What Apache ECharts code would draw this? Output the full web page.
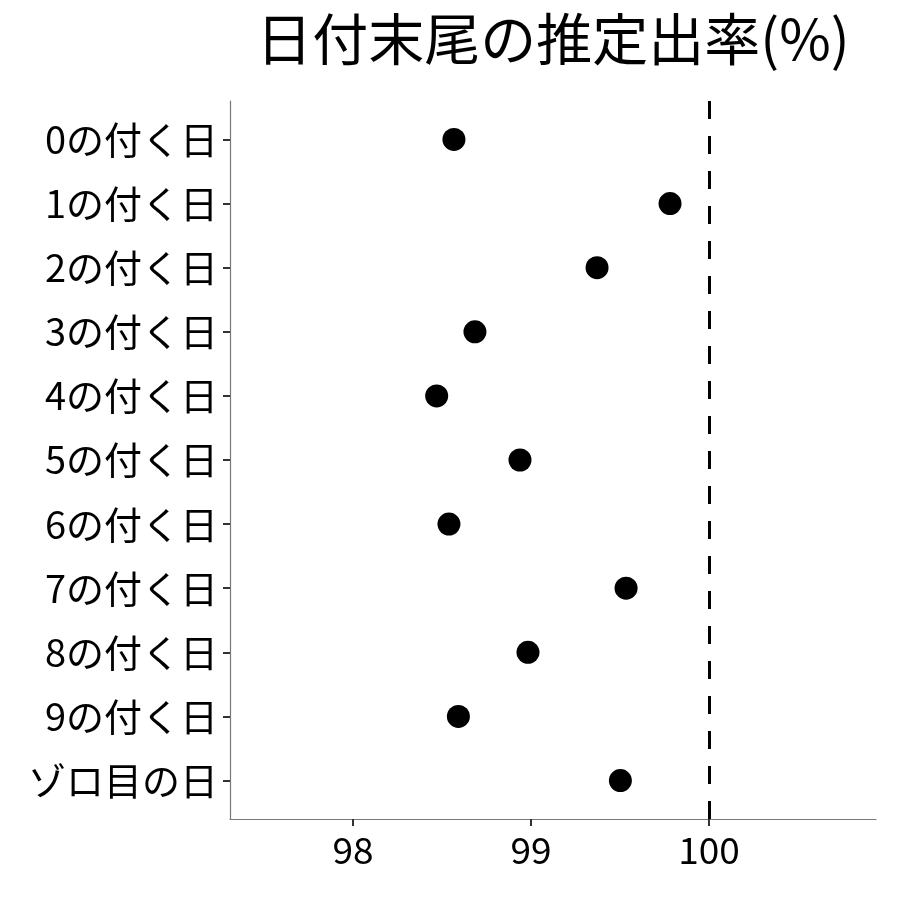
<!DOCTYPE html>
<html>
<head>
<meta charset="utf-8">
<script src="https://cdn.jsdelivr.net/npm/echarts@6/dist/echarts.min.js"></script>
<style>
  html, body { margin: 0; padding: 0; background: #fff; }
  #main { width: 900px; height: 900px; }
</style>
</head>
<body>
<div id="main"></div>
<script>
// 日付末尾ごとの推定出率
var categories = ["0の付く日", "1の付く日", "2の付く日", "3の付く日", "4の付く日",
                  "5の付く日", "6の付く日", "7の付く日", "8の付く日", "9の付く日", "ゾロ目の日"];
var rates = [98.567, 99.781, 99.371, 98.685, 98.470, 98.938, 98.539, 99.534, 98.983, 98.592, 99.502];
var xTicks = [98, 99, 100];
var refLine = 100;

var font = '"Noto Sans CJK JP", "Noto Sans", sans-serif';
var yIdx = categories.map(function (c, i) { return i; });

var dom = document.getElementById("main");
var myChart = echarts.init(dom);
var option = {
    backgroundColor: "#fff",
    animation: false,
    title: {
        text: "日付末尾の推定出率(%)",
        left: 548, top: 6, textAlign: "center",
        textStyle: { fontFamily: font, fontSize: 56, fontWeight: "normal", color: "#000" }
    },
    grid: { left: 230, right: 24, top: 101, bottom: 81 },
    xAxis: {
        type: "value",
        min: 97.309, max: 100.938,
        splitLine: { show: false },
        axisLine: { show: true, onZero: false, lineStyle: { color: "#777", width: 1.2 } },
        axisTick: { show: true, customValues: xTicks, length: 7, lineStyle: { color: "#333", width: 2 } },
        axisLabel: { customValues: xTicks, margin: 12, fontFamily: font, fontSize: 37, color: "#000" }
    },
    yAxis: {
        type: "value",
        inverse: true,
        min: -0.6, max: 10.6,
        splitLine: { show: false },
        axisLine: { show: true, onZero: false, lineStyle: { color: "#777", width: 1.2 } },
        axisTick: { show: true, customValues: yIdx, length: 7, lineStyle: { color: "#333", width: 2 } },
        axisLabel: {
            customValues: yIdx, margin: 12, fontFamily: font, fontSize: 38, color: "#000",
            formatter: function (v) { return categories[Math.round(v)]; }
        }
    },
    series: [
        {
            type: "scatter",
            symbol: "circle",
            symbolSize: 23,
            itemStyle: { color: "#000", opacity: 1 },
            data: rates.map(function (r, i) { return [r, i]; }),
            markLine: {
                silent: true,
                symbol: "none",
                label: { show: false },
                lineStyle: { color: "#000", type: [18, 17], width: 3 },
                data: [{ xAxis: refLine }]
            }
        }
    ]
};
option && "object" == typeof option && myChart.setOption(option, !0);
</script>
</body>
</html>
